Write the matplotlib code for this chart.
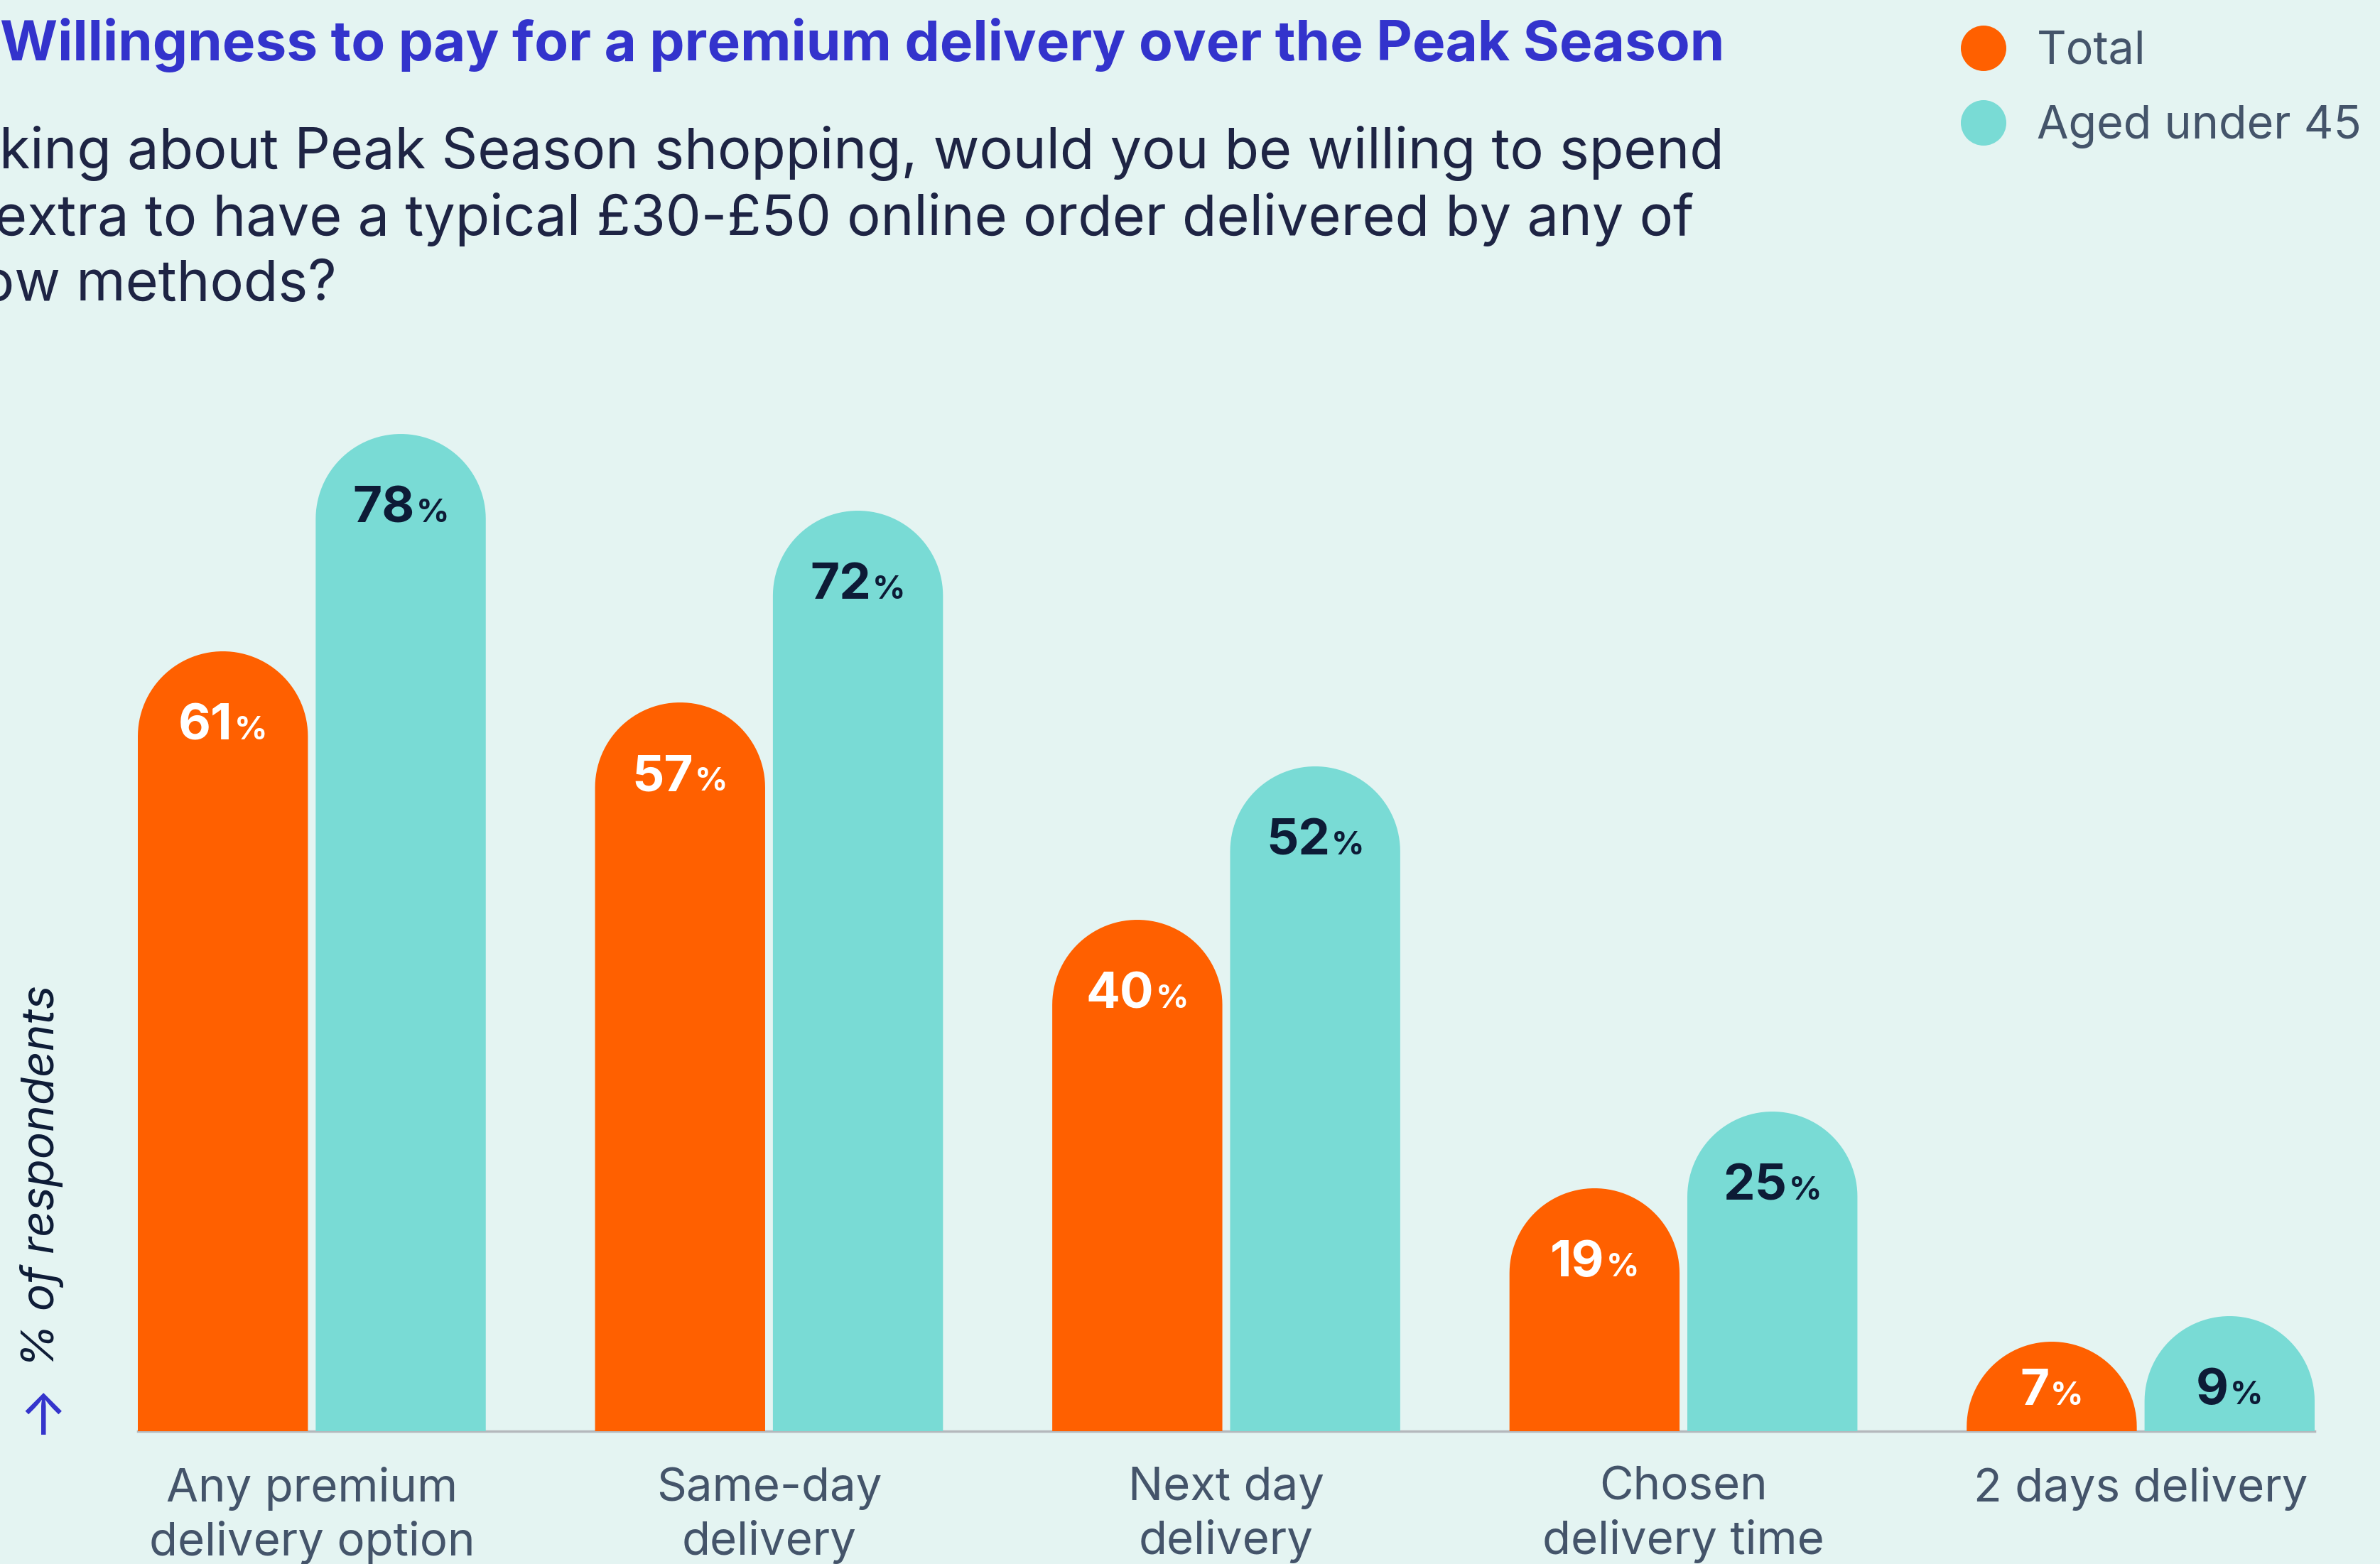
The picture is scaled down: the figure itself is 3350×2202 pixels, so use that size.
import numpy as np
import matplotlib.pyplot as plt
from matplotlib.path import Path
from matplotlib.patches import PathPatch, Ellipse

# Chart data
categories = ["Any premium\ndelivery option", "Same-day\ndelivery", "Next day\ndelivery",
              "Chosen\ndelivery time", "2 days delivery"]
total = [61, 57, 40, 19, 7]
under_45 = [78, 72, 52, 25, 9]
series_names = ["Total", "Aged under 45"]

title = "Willingness to pay for a premium delivery over the Peak Season"
subtitle_lines = ["Thinking about Peak Season shopping, would you be willing to spend",
                  "extra to have a typical £30-£50 online order delivered by any of",
                  "the below methods?"]

# Colours
BG = "#E4F4F2"
ORANGE = "#FF6000"
TEAL = "#79DBD5"
NAVY = "#0D1B36"
SLATE = "#44546A"
BLUE = "#3333CC"

plt.rcParams['font.family'] = ['Inter', 'DejaVu Sans']

W, H = 3350, 2202
fig = plt.figure(figsize=(W / 100, H / 100), dpi=100, facecolor=BG)

# axes placed in pixel terms: baseline at y=2015, 18 px per percentage point
y_top = 85
ax = fig.add_axes([194 / W, (H - 2015) / H, 3064 / W, y_top * 18 / H])
ax.set_facecolor(BG)
ax.set_xlim(-0.3805, 4.3805)
ax.set_ylim(0, y_top)

bar_w = 0.372
offset = 0.1945
x = np.arange(len(categories))

# vertical radius of the rounded cap so that it is a semicircle on screen
fig.canvas.draw()
px_per_x = ax.transData.transform((1, 0))[0] - ax.transData.transform((0, 0))[0]
px_per_y = ax.transData.transform((0, 1))[1] - ax.transData.transform((0, 0))[1]
rx = bar_w / 2
ry = rx * px_per_x / px_per_y


def rounded_bar(xc, value, color):
    """Bar with a semicircular top, total height equal to value"""
    t = np.linspace(np.pi, 0, 60)
    arc_x = xc + rx * np.cos(t)
    arc_y = value - ry + ry * np.sin(t)
    verts = [(xc - rx, 0)] + list(zip(arc_x, arc_y)) + [(xc + rx, 0), (xc - rx, 0)]
    codes = [Path.MOVETO] + [Path.LINETO] * (len(verts) - 2) + [Path.CLOSEPOLY]
    ax.add_patch(PathPatch(Path(verts, codes), facecolor=color, edgecolor='none', zorder=3))


labels = []
for i in range(len(categories)):
    for vals, color, txt_color, sign in [(total, ORANGE, "white", -1), (under_45, TEAL, NAVY, 1)]:
        xc = x[i] + sign * offset
        v = vals[i]
        rounded_bar(xc, v, color)
        yb = max(v - 6.9, 2.05)
        t_num = ax.annotate(str(v), xy=(xc, yb), xytext=(0, 0), textcoords='offset pixels',
                            ha='right', va='baseline', fontsize=51, fontweight='bold',
                            color=txt_color, zorder=4)
        t_pct = ax.annotate("%", xy=(xc, yb), xytext=(0, 0), textcoords='offset pixels',
                            ha='left', va='baseline', fontsize=33, fontweight='bold',
                            color=txt_color, zorder=4)
        labels.append((t_num, t_pct))

# centre the number + % pairs
fig.canvas.draw()
renderer = fig.canvas.get_renderer()
for t_num, t_pct in labels:
    w1 = t_num.get_window_extent(renderer).width
    w2 = t_pct.get_window_extent(renderer).width
    shift = (w1 - w2) / 2
    t_num.set_position((shift - 1, 0))
    t_pct.set_position((shift + 1, 0))

# axis styling
for s in ['top', 'right', 'left']:
    ax.spines[s].set_visible(False)
ax.spines['bottom'].set_color("#B4B8BC")
ax.spines['bottom'].set_linewidth(2.5)
ax.spines['bottom'].set_zorder(2)
ax.set_yticks([])
ax.set_xticks(x)
ax.set_xticklabels(categories, fontsize=47, color=SLATE, linespacing=1.29)
ax.tick_params(axis='x', length=0, pad=36)

# y label with arrow
fig.text(58 / W, 1 - 1656 / H, "% of respondents", rotation=90, ha='center', va='center',
         fontsize=46, style='italic', color=NAVY)
fig.text(57 / W, 1 - 1981 / H, "→", rotation=90, ha='center', va='center',
         fontsize=58, color=BLUE)

# title and subtitle
fig.text(0, 1 - 85 / H, title, ha='left', va='baseline', fontsize=56.3,
         fontweight='bold', color=BLUE)
for line, anchor, yb in zip(subtitle_lines, [('right', 2427), ('left', -8), ('right', 474)],
                            [237, 331, 423]):
    fig.text(anchor[1] / W, 1 - yb / H, line, ha=anchor[0], va='baseline', fontsize=57,
             color="#1E2444")

# legend
for name, color, yc in zip(series_names, [ORANGE, TEAL], [68, 173]):
    fig.add_artist(Ellipse((2792 / W, 1 - yc / H), 64 / W, 64 / H,
                           transform=fig.transFigure, facecolor=color, edgecolor='none'))
    fig.text(2867 / W, 1 - (yc + 5) / H, name, ha='left', va='center', fontsize=46.5, color=SLATE)

fig.savefig("out.png", dpi=100, facecolor=BG)
